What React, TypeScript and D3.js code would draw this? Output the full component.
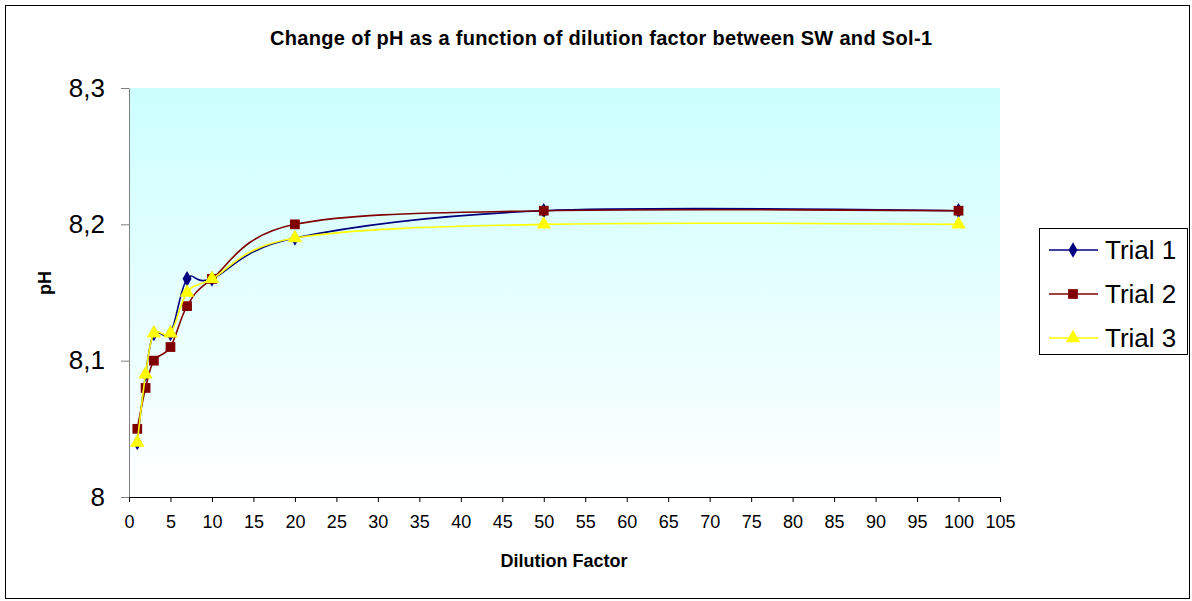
import { useEffect, useRef } from "react";
import * as d3 from "d3";

// dilution factors (x) and measured pH for each trial
const dilution = [1, 2, 3, 5, 7, 10, 20, 50, 100];
const trial1 = [8.04, 8.09, 8.12, 8.12, 8.16, 8.16, 8.19, 8.21, 8.21];
const trial2 = [8.05, 8.08, 8.1, 8.11, 8.14, 8.16, 8.2, 8.21, 8.21];
const trial3 = [8.04, 8.09, 8.12, 8.12, 8.15, 8.16, 8.19, 8.2, 8.2];
const seriesNames = ["Trial 1", "Trial 2", "Trial 3"];
const yTicks = [8, 8.1, 8.2, 8.3];

const W = 1192;
const H = 601;
const plot = { left: 129, right: 1000, top: 88, bottom: 497 };

const styles = [
  { color: "#000080", symbol: d3.symbolDiamond, size: 70 },
  { color: "#800000", symbol: d3.symbolSquare, size: 95 },
  { color: "#FFFF00", symbol: d3.symbolTriangle, size: 90 },
];

export default function App() {
  const ref = useRef<SVGSVGElement>(null);

  useEffect(() => {
    const svg = d3.select(ref.current);
    svg.selectAll("*").remove();
    const font = "Liberation Sans, Arial, sans-serif";

    // outer chart border
    svg
      .append("rect")
      .attr("x", 5.5)
      .attr("y", 5.5)
      .attr("width", 1184)
      .attr("height", 593)
      .attr("fill", "white")
      .attr("stroke", "#000")
      .attr("stroke-width", 1);

    const x = d3.scaleLinear().domain([0, 105]).range([plot.left, plot.right]);
    const y = d3.scaleLinear().domain([8, 8.3]).range([plot.bottom, plot.top]);

    // gradient plot area
    const grad = svg
      .append("defs")
      .append("linearGradient")
      .attr("id", "bg")
      .attr("x1", 0)
      .attr("y1", 0)
      .attr("x2", 0)
      .attr("y2", 1);
    grad.append("stop").attr("offset", "0%").attr("stop-color", "#CCFFFF");
    grad.append("stop").attr("offset", "100%").attr("stop-color", "#FFFFFF");
    svg
      .append("rect")
      .attr("x", plot.left)
      .attr("y", plot.top)
      .attr("width", plot.right - plot.left)
      .attr("height", plot.bottom - plot.top)
      .attr("fill", "url(#bg)");

    // title
    svg
      .append("text")
      .attr("x", 601)
      .attr("y", 45)
      .attr("text-anchor", "middle")
      .attr("font-family", font)
      .attr("font-weight", "bold")
      .attr("font-size", 20)
      .attr("textLength", 662)
      .text("Change of pH as a function of dilution factor between SW and Sol-1");

    // x axis
    const xAxis = svg
      .append("g")
      .attr("transform", `translate(0,${plot.bottom})`)
      .call(
        d3
          .axisBottom(x)
          .tickValues(d3.range(0, 106, 5))
          .tickSize(5)
          .tickSizeOuter(0)
          .tickPadding(13)
      );
    xAxis.select(".domain").attr("stroke", "#000");
    xAxis.selectAll("line").attr("stroke", "#000");
    xAxis
      .selectAll("text")
      .attr("font-family", font)
      .attr("font-size", 18)
      .attr("fill", "#000");

    // y axis
    const yAxis = svg
      .append("g")
      .attr("transform", `translate(${plot.left},0)`)
      .call(
        d3
          .axisLeft(y)
          .tickValues(yTicks)
          .tickSize(8)
          .tickSizeOuter(0)
          .tickPadding(16)
          .tickFormat((d) => ((d as number) === 8 ? "8" : (d as number).toFixed(1).replace(".", ",")))
      );
    yAxis.select(".domain").attr("stroke", "#808080");
    yAxis.selectAll("line").attr("stroke", "#808080");
    yAxis
      .selectAll("text")
      .attr("font-family", font)
      .attr("font-size", 26)
      .attr("fill", "#000");

    // axis titles
    svg
      .append("text")
      .attr("x", 564)
      .attr("y", 567)
      .attr("text-anchor", "middle")
      .attr("font-family", font)
      .attr("font-weight", "bold")
      .attr("font-size", 18)
      .text("Dilution Factor");
    svg
      .append("text")
      .attr("transform", `translate(51,283) rotate(-90)`)
      .attr("text-anchor", "middle")
      .attr("font-family", font)
      .attr("font-weight", "bold")
      .attr("font-size", 18)
      .text("pH");

    // series lines + markers
    const line = d3
      .line<number>()
      .x((_, i) => x(dilution[i]))
      .y((d) => y(d))
      .curve(d3.curveCatmullRom.alpha(0));

    [trial1, trial2, trial3].forEach((vals, k) => {
      const st = styles[k];
      svg
        .append("path")
        .attr("d", line(vals))
        .attr("fill", "none")
        .attr("stroke", st.color)
        .attr("stroke-width", 1.6);
      svg
        .append("g")
        .selectAll("path")
        .data(vals)
        .join("path")
        .attr("transform", (d, i) => `translate(${x(dilution[i])},${y(d)})`)
        .attr("d", d3.symbol().type(st.symbol).size(st.size)())
        .attr("fill", st.color);
    });

    // legend
    const lg = svg.append("g").attr("transform", "translate(1039,228)");
    lg.append("rect")
      .attr("x", 0.5)
      .attr("y", 0.5)
      .attr("width", 148)
      .attr("height", 126)
      .attr("fill", "white")
      .attr("stroke", "#000");
    seriesNames.forEach((name, k) => {
      const st = styles[k];
      const cy = 22 + k * 44;
      lg.append("line")
        .attr("x1", 10)
        .attr("x2", 59)
        .attr("y1", cy)
        .attr("y2", cy)
        .attr("stroke", st.color)
        .attr("stroke-width", 1.6);
      lg.append("path")
        .attr("transform", `translate(34,${cy})`)
        .attr("d", d3.symbol().type(st.symbol).size(st.size)())
        .attr("fill", st.color);
      lg.append("text")
        .attr("x", 66)
        .attr("y", cy + 9)
        .attr("font-family", font)
        .attr("font-size", 26)
        .text(name);
    });
  }, []);

  return (
    <svg
      ref={ref}
      width={W}
      height={H}
      style={{ position: "absolute", left: 0, top: 0 }}
    />
  );
}
